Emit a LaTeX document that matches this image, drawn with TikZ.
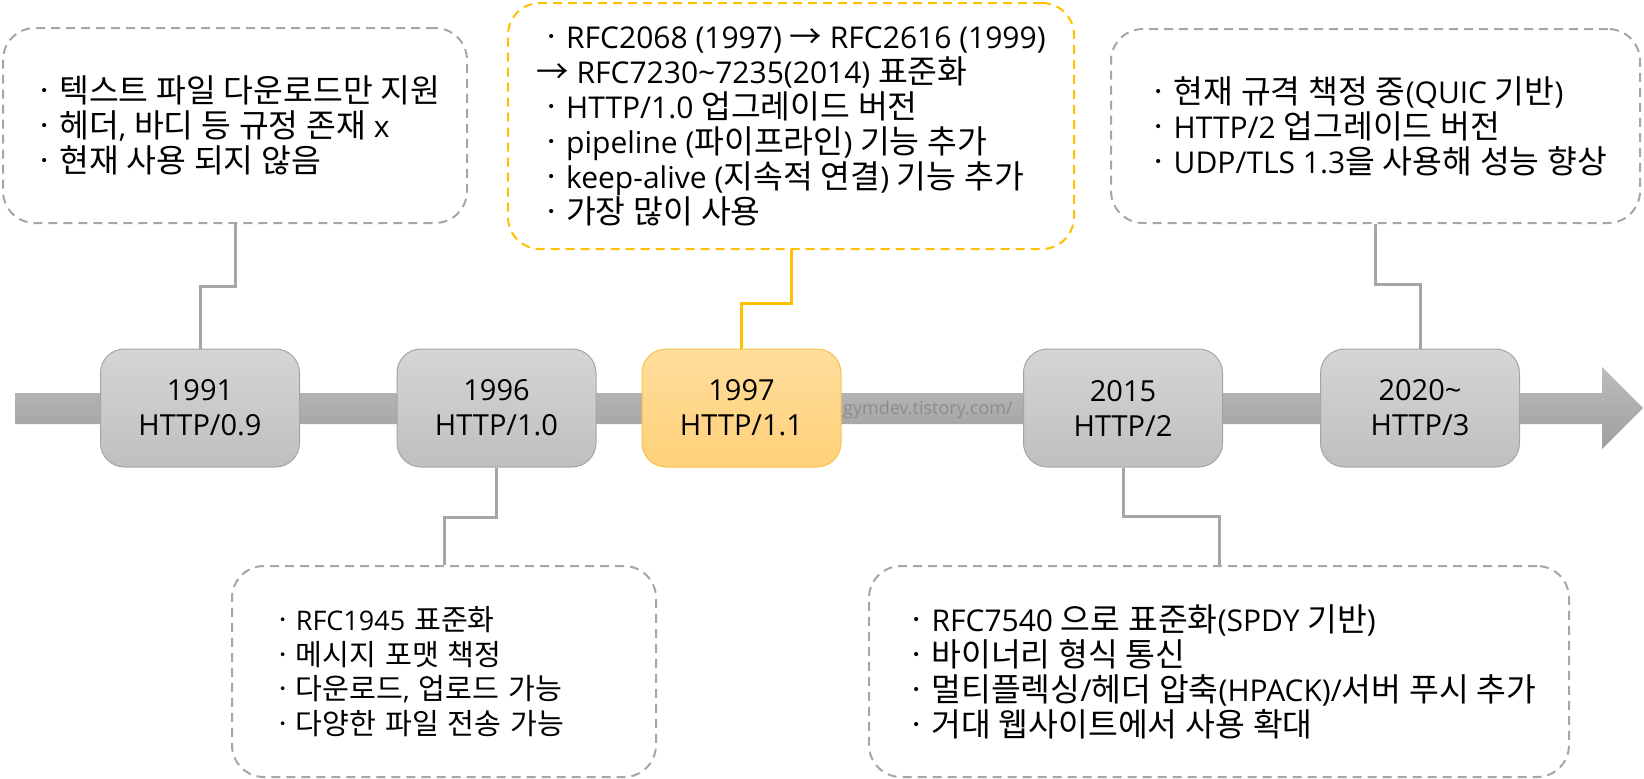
\documentclass[tikz,border=0pt]{standalone}
\usepackage{fontspec}
\setmainfont{Open Sans}
\newfontfamily\krfont{Noto Sans CJK KR}[Scale=1.08]
\usetikzlibrary{arrows.meta, positioning, calc}
\definecolor{axistop}{HTML}{BDBDBD}
\definecolor{axisbot}{HTML}{9E9E9E}
\definecolor{yeartop}{HTML}{D5D5D5}
\definecolor{yearbot}{HTML}{BFBFBF}
\definecolor{yearline}{HTML}{A5A5A5}
\definecolor{hitop}{HTML}{FFDD9C}
\definecolor{hibot}{HTML}{FFD179}
\definecolor{hiline}{HTML}{F7C34A}
\definecolor{hilink}{HTML}{FFC000}
\definecolor{notegray}{HTML}{A6A6A6}
\definecolor{marktext}{HTML}{8C8C8C}

% hangul is set in the CJK font
\XeTeXinterchartokenstate=1
\newXeTeXintercharclass\krclass
\count255="AC00
\loop
  \XeTeXcharclass\count255=\krclass
\ifnum\count255<"D7A3 \advance\count255 by 1 \repeat
\XeTeXcharclass"318D=\krclass
\XeTeXcharclass"2192=\krclass
\XeTeXinterchartoks 0 \krclass = {\begingroup\krfont}
\XeTeXinterchartoks 4095 \krclass = {\begingroup\krfont}
\XeTeXinterchartoks \krclass 0 = {\endgroup}
\XeTeXinterchartoks \krclass 4095 = {\endgroup}

\begin{document}
\begin{tikzpicture}[x=1pt, y=-1pt,
    year/.style={rectangle, rounded corners=24pt, draw=yearline, line width=1pt, top color=yeartop, bottom color=yearbot, minimum width=199pt, minimum height=118pt, align=center, font={\fontsize{29}{35}\selectfont}},
    hiyear/.style={year, draw=hiline, top color=hitop, bottom color=hibot},
    note/.style={rectangle, rounded corners=32pt, draw=notegray, line width=2pt, dash pattern=on 9pt off 6pt, fill=white, align=left, font={\fontsize{30}{35}\selectfont}},
    hinote/.style={note, draw=hilink},
    link/.style={draw=notegray, line width=3pt},
    hiconn/.style={draw=hilink, line width=3pt}
]
\useasboundingbox (0,0) rectangle (1644,779);

% Timeline
\shade[top color=axistop, bottom color=axisbot] (15,393) -- (1602,393) -- (1602,367) -- (1643,408) -- (1602,449) -- (1602,424) -- (15,424) -- cycle;

% Years
\node[year] (y91) at (200,408) {1991\\HTTP/0.9};
\node[year] (y96) at (496.5,408) {1996\\HTTP/1.0};
\node[hiyear] (y97) at (741.5,408) {1997\\HTTP/1.1};
\node[year] (y15) at (1123,408) {2015\\HTTP/2};
\node[year] (y20) at (1420,408) {2020\textasciitilde\\HTTP/3};

\node[anchor=west, inner sep=0pt, text=marktext, font={\fontsize{18}{18}\selectfont}] (mark) at (843,410) {gymdev.tistory.com/};

% Notes
\node[note, minimum width=464pt, minimum height=195pt] (n91) at (235,125.5) {ㆍ텍스트 파일 다운로드만 지원\\ㆍ헤더, 바디 등 규정 존재 x\\ㆍ현재 사용 되지 않음};
\node[note, inner xsep=37pt, text width=350pt, minimum height=211pt, font={\fontsize{27}{34.5}\selectfont}] (n96) at (444,671.5) {ㆍRFC1945 표준화\\ㆍ메시지 포맷 책정\\ㆍ다운로드, 업로드 가능\\ㆍ다양한 파일 전송 가능};
\node[hinote, minimum width=566pt, minimum height=246pt] (n97) at (791,126) {ㆍRFC2068 (1997) → RFC2616 (1999)\\→ RFC7230\textasciitilde7235(2014) 표준화\\ㆍHTTP/1.0 업그레이드 버전\\ㆍpipeline (파이프라인) 기능 추가\\ㆍkeep-alive (지속적 연결) 기능 추가\\ㆍ가장 많이 사용};
\node[note, minimum width=700pt, minimum height=211pt] (n15) at (1219,671.5) {ㆍRFC7540 으로 표준화(SPDY 기반)\\ㆍ바이너리 형식 통신\\ㆍ멀티플렉싱/헤더 압축(HPACK)/서버 푸시 추가\\ㆍ거대 웹사이트에서 사용 확대};
\node[note, minimum width=529pt, minimum height=194pt] (n20) at (1375.5,126) {ㆍ현재 규격 책정 중(QUIC 기반)\\ㆍHTTP/2 업그레이드 버전\\ㆍUDP/TLS 1.3을 사용해 성능 향상};

% Links
\draw[link] (y91.north) -- ++(0,-62) -| (n91.south);
\draw[link] (y96.south) -- ++(0,50) -| (n96.north);
\draw[hiconn] (y97.north) -- ++(0,-45) -| (n97.south);
\draw[link] (y15.south) -- ++(0,49) -| (n15.north);
\draw[link] (y20.north) -- ++(0,-64) -| (n20.south);

\end{tikzpicture}
\end{document}
